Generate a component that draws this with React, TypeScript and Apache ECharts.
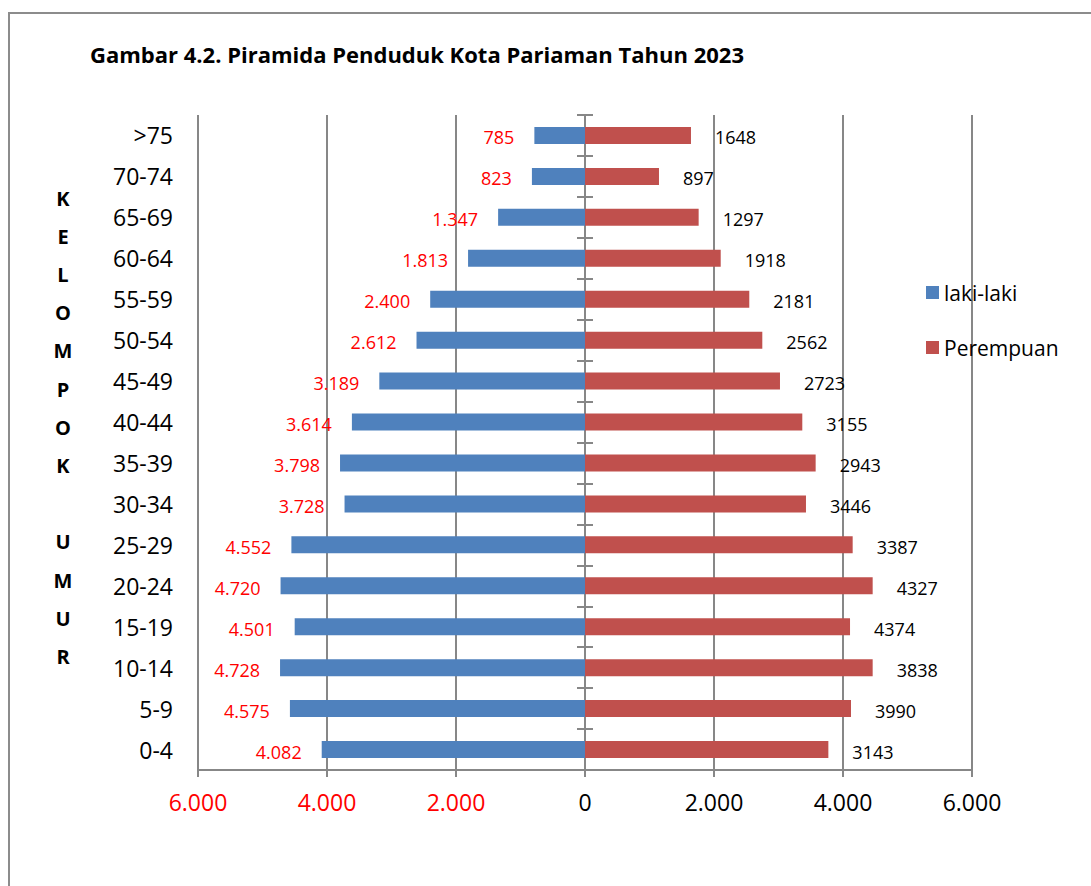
import React, { useEffect, useRef } from "react";
import * as echarts from "echarts";

const categories = ["0-4", "5-9", "10-14", "15-19", "20-24", "25-29", "30-34", "35-39", "40-44", "45-49", "50-54", "55-59", "60-64", "65-69", "70-74", ">75"];
const maleValues = [4082, 4575, 4728, 4501, 4720, 4552, 3728, 3798, 3614, 3189, 2612, 2400, 1813, 1347, 823, 785];
const femaleBarValues = [3773, 4124, 4460, 4109, 4460, 4150, 3426, 3576, 3369, 3023, 2749, 2547, 2104, 1762, 1147, 1643];
const femaleLabelValues = [3143, 3990, 3838, 4374, 4327, 3387, 3446, 2943, 3155, 2723, 2562, 2181, 1918, 1297, 897, 1648];
const xTicks = { min: -6000, max: 6000, interval: 2000 };
const titleText = "Gambar 4.2. Piramida Penduduk Kota Pariaman Tahun 2023";
const sideTitle = "K\nE\nL\nO\nM\nP\nO\nK\n\nU\nM\nU\nR";

const FONT = "Open Sans";
const fmt = (n: number) => String(n).replace(/\B(?=(\d{3})+(?!\d))/g, ".");

export default function App() {
  const ref = useRef<HTMLDivElement>(null);
  useEffect(() => {
    if (!ref.current) return;
    const chart = echarts.init(ref.current, null, { renderer: "svg" });
    const gray = "#878787";
    chart.setOption({
      animation: false,
      textStyle: { fontFamily: FONT },
      title: {
        text: titleText,
        left: 85,
        top: 38,
        textStyle: { fontFamily: FONT, fontSize: 22, fontWeight: "bold", color: "#000" },
      },
      legend: {
        orient: "vertical",
        left: 921,
        top: 277,
        itemWidth: 13,
        itemHeight: 13,
        itemGap: 34,
        textStyle: { fontFamily: FONT, fontSize: 21, color: "#000" },
        data: [
          { name: "laki-laki", icon: "rect" },
          { name: "Perempuan", icon: "rect" },
        ],
      },
      grid: { left: 198, right: 119, top: 115, bottom: 116 },
      xAxis: {
        type: "value",
        min: xTicks.min,
        max: xTicks.max,
        interval: xTicks.interval,
        axisLine: { show: true, onZero: false, lineStyle: { color: gray, width: 2 } },
        axisTick: { show: true, length: 7, lineStyle: { color: gray, width: 2 } },
        splitLine: { show: true, lineStyle: { color: gray, width: 2 } },
        axisLabel: {
          fontFamily: FONT,
          fontSize: 23,
          margin: 20,
          formatter: (v: number) => fmt(Math.abs(v)),
          color: (v: any) => (Number(v) < 0 ? "#FF0000" : "#000000"),
        },
      },
      yAxis: [
        {
          type: "category",
          data: categories,
          axisLine: { show: false, onZero: false },
          axisTick: { show: false },
          axisLabel: { fontFamily: FONT, fontSize: 23, color: "#000", margin: 25 },
        },
        {
          type: "category",
          data: categories,
          position: "left",
          axisLine: { show: true, onZero: true, onZeroAxisIndex: 0, lineStyle: { color: gray, width: 2 } },
          axisTick: { show: true, inside: false, length: 8, lineStyle: { color: gray, width: 2 } },
          axisLabel: { show: false },
        },
        {
          type: "category",
          data: categories,
          position: "left",
          axisLine: { show: true, onZero: true, onZeroAxisIndex: 0, lineStyle: { color: gray, width: 2 } },
          axisTick: { show: true, inside: true, length: 8, lineStyle: { color: gray, width: 2 } },
          axisLabel: { show: false },
        },
      ],
      series: [
        {
          name: "laki-laki",
          type: "bar",
          yAxisIndex: 0,
          data: maleValues.map((v) => -v),
          barWidth: 17,
          barGap: "-100%",
          itemStyle: { color: "#4F81BD" },
          label: {
            show: true,
            position: "left",
            distance: 20,
            offset: [0, 2],
            color: "#FF0000",
            fontFamily: FONT,
            fontSize: 18,
            formatter: (p: any) => fmt(maleValues[p.dataIndex]),
          },
          z: 3,
        },
        {
          name: "Perempuan",
          type: "bar",
          yAxisIndex: 0,
          data: femaleBarValues,
          barWidth: 17,
          barGap: "-100%",
          itemStyle: { color: "#C0504D" },
          label: {
            show: true,
            position: "right",
            distance: 24,
            offset: [0, 2],
            color: "#000000",
            fontFamily: FONT,
            fontSize: 18,
            formatter: (p: any) => String(femaleLabelValues[p.dataIndex]),
          },
          z: 3,
        },
      ],
      graphic: [
        {
          type: "rect",
          z: -10,
          shape: { x: 9, y: 13, width: 1100, height: 900 },
          style: { fill: "none", stroke: "#8c8c8c", lineWidth: 2 },
        },
        {
          type: "text",
          x: 63,
          y: 179,
          style: {
            text: sideTitle,
            align: "center",
            verticalAlign: "top",
            fontFamily: FONT,
            fontSize: 20,
            fontWeight: "bold",
            lineHeight: 38.2,
            fill: "#000",
          },
        },
      ],
    });
    return () => chart.dispose();
  }, []);
  return (
    <div
      ref={ref}
      style={{ position: "fixed", left: 0, top: 0, width: 1091, height: 886, background: "#fff" }}
    />
  );
}
